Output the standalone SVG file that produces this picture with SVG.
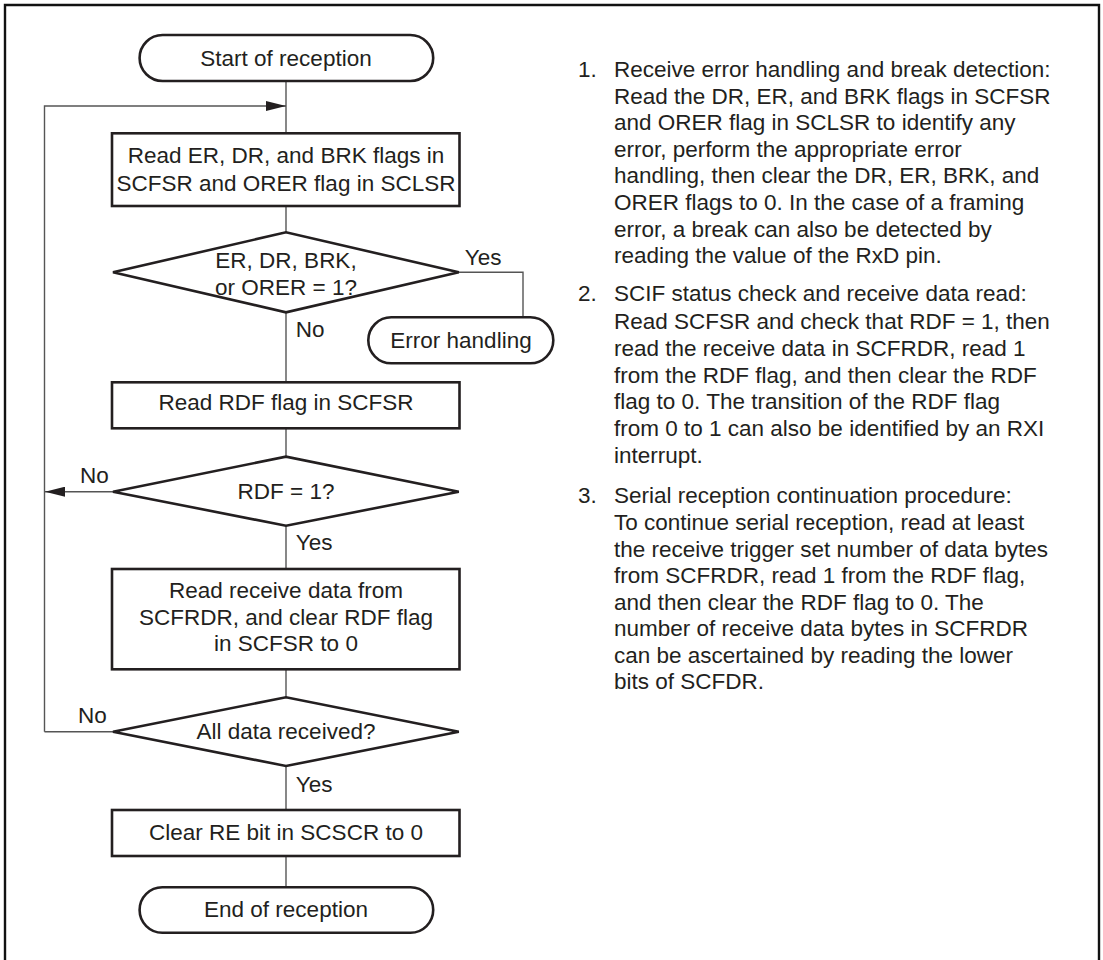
<svg xmlns="http://www.w3.org/2000/svg" width="1103" height="960" viewBox="0 0 1103 960">
<style>
text{font-family:"Liberation Sans",Arial,sans-serif;font-size:22.5px;fill:#231f20}
.c{text-anchor:middle}
.shape{fill:#fff;stroke:#231f20;stroke-width:2.6}
.conn{fill:none;stroke:#555;stroke-width:1.4}
</style>
<defs>
<marker id="ah" markerWidth="20" markerHeight="10" refX="20" refY="5" orient="auto" markerUnits="userSpaceOnUse">
<path d="M0,0 L20,5 L0,10 Z" fill="#231f20"/>
</marker>
</defs>
<rect width="1103" height="960" fill="#fff"/>
<path d="M5,965 V5 H1099 V965" fill="none" stroke="#111" stroke-width="2.4"/>

<g id="connectors">
<path class="conn" d="M286,81 V133"/>
<path class="conn" d="M44.5,731.7 V106 H286" marker-end="url(#ah)"/>
<path class="conn" d="M286,206 V232"/>
<path class="conn" d="M458.8,272.3 H523 V317"/>
<path class="conn" d="M286,312 V382"/>
<path class="conn" d="M286,428 V457"/>
<path class="conn" d="M113,491.7 H45" marker-end="url(#ah)"/>
<path class="conn" d="M286,526 V569"/>
<path class="conn" d="M286,669 V697"/>
<path class="conn" d="M113,731.7 H44.5"/>
<path class="conn" d="M286,766 V810"/>
<path class="conn" d="M286,856 V887"/>
</g>

<g id="start">
<rect class="shape" x="139.6" y="35" width="293.6" height="46" rx="23"/>
<text class="c" x="286" y="65.7">Start of reception</text>
</g>
<g id="read-flags">
<rect class="shape" x="112" y="133.3" width="347.5" height="72.7"/>
<text class="c" x="286" y="163.3">Read ER, DR, and BRK flags in</text>
<text class="c" x="286" y="190.7">SCFSR and ORER flag in SCLSR</text>
</g>
<g id="error-check">
<polygon class="shape" points="113,272.3 286,232.3 458.8,272.3 286,312.3"/>
<text class="c" x="286" y="268.3">ER, DR, BRK,</text>
<text class="c" x="286" y="295">or ORER = 1?</text>
<text x="464.7" y="265">Yes</text>
<text x="295.7" y="337">No</text>
</g>
<g id="error-handling">
<rect class="shape" x="368.3" y="317.3" width="185" height="46" rx="23"/>
<text class="c" x="461" y="348">Error handling</text>
</g>
<g id="read-rdf">
<rect class="shape" x="112" y="382.3" width="347.5" height="46"/>
<text class="c" x="286" y="410">Read RDF flag in SCFSR</text>
</g>
<g id="rdf-check">
<polygon class="shape" points="113,491.7 286,456.7 458.8,491.7 286,525.7"/>
<text class="c" x="286" y="499">RDF = 1?</text>
<text x="80" y="483.3">No</text>
<text x="295.7" y="550">Yes</text>
</g>
<g id="read-data">
<rect class="shape" x="112" y="569" width="347.5" height="100.3"/>
<text class="c" x="286" y="598.3">Read receive data from</text>
<text class="c" x="286" y="625">SCFRDR, and clear RDF flag</text>
<text class="c" x="286" y="650.7">in SCFSR to 0</text>
</g>
<g id="all-check">
<polygon class="shape" points="113,731.7 286,697.3 458.8,731.7 286,766"/>
<text class="c" x="286" y="739.3">All data received?</text>
<text x="78" y="723.3">No</text>
<text x="295.7" y="791.7">Yes</text>
</g>
<g id="clear-re">
<rect class="shape" x="112" y="810" width="347.5" height="46"/>
<text class="c" x="286" y="840">Clear RE bit in SCSCR to 0</text>
</g>
<g id="end">
<rect class="shape" x="139.6" y="887.3" width="293.6" height="45.4" rx="22.7"/>
<text class="c" x="286" y="916.7">End of reception</text>
</g>

<g id="notes">
<text x="578" y="77">1.</text>
<text x="614" y="77">Receive error handling and break detection:</text>
<text x="614" y="103.6">Read the DR, ER, and BRK flags in SCFSR</text>
<text x="614" y="130.2">and ORER flag in SCLSR to identify any</text>
<text x="614" y="156.8">error, perform the appropriate error</text>
<text x="614" y="183.4">handling, then clear the DR, ER, BRK, and</text>
<text x="614" y="210">ORER flags to 0. In the case of a framing</text>
<text x="614" y="236.6">error, a break can also be detected by</text>
<text x="614" y="263.2">reading the value of the RxD pin.</text>
<text x="578" y="301">2.</text>
<text x="614" y="301">SCIF status check and receive data read:</text>
<text x="614" y="329">Read SCFSR and check that RDF = 1, then</text>
<text x="614" y="355.8">read the receive data in SCFRDR, read 1</text>
<text x="614" y="382.5">from the RDF flag, and then clear the RDF</text>
<text x="614" y="409.2">flag to 0. The transition of the RDF flag</text>
<text x="614" y="436">from 0 to 1 can also be identified by an RXI</text>
<text x="614" y="462.7">interrupt.</text>
<text x="578" y="503.3">3.</text>
<text x="614" y="503.3">Serial reception continuation procedure:</text>
<text x="614" y="530">To continue serial reception, read at least</text>
<text x="614" y="556.5">the receive trigger set number of data bytes</text>
<text x="614" y="583">from SCFRDR, read 1 from the RDF flag,</text>
<text x="614" y="609.5">and then clear the RDF flag to 0. The</text>
<text x="614" y="636">number of receive data bytes in SCFRDR</text>
<text x="614" y="662.5">can be ascertained by reading the lower</text>
<text x="614" y="689">bits of SCFDR.</text>
</g>
</svg>
